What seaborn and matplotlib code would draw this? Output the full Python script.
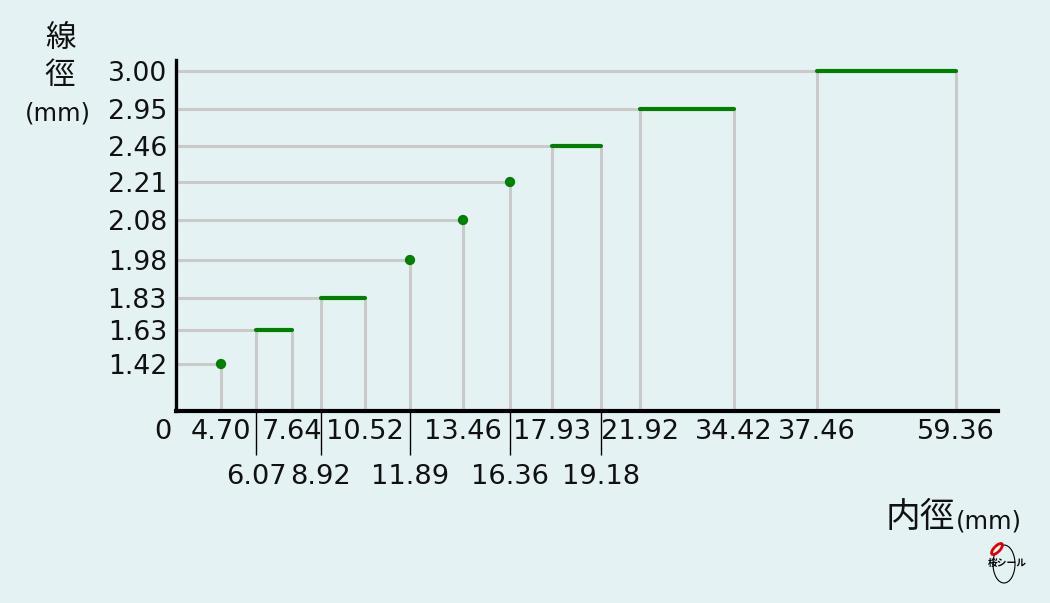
import numpy as np
import pandas as pd
import matplotlib
matplotlib.use("Agg")
import matplotlib.pyplot as plt
import seaborn as sns
from matplotlib.patches import Ellipse

# ---------------- data ----------------
inner_upper = [4.70, 7.64, 10.52, 13.46, 17.93, 21.92, 34.42, 37.46, 59.36]
inner_lower = [6.07, 8.92, 11.89, 16.36, 19.18]
wire_ticks = [1.42, 1.63, 1.83, 1.98, 2.08, 2.21, 2.46, 2.95, 3.00]

point_x = [4.70, 11.89, 13.46, 16.36]
point_y = [1.42, 1.98, 2.08, 2.21]

seg_x0 = [6.07, 8.92, 17.93, 21.92, 37.46]
seg_x1 = [7.64, 10.52, 19.18, 34.42, 59.36]
seg_y = [1.63, 1.83, 2.46, 2.95, 3.00]

# ---------------- non-linear scale knots (layout) ----------------
X_KNOTS = [0, 4.70, 6.07, 7.64, 8.92, 10.52, 11.89, 13.46, 16.36, 17.93, 19.18, 21.92, 34.42, 37.46, 59.36, 64.0]
X_SCREEN = [0, 45, 80, 116, 145, 189, 234, 287, 334, 376, 425, 464, 558, 641, 780, 822]
Y_KNOTS = [0, 1.42, 1.63, 1.83, 1.98, 2.08, 2.21, 2.46, 2.95, 3.00, 3.05]
Y_SCREEN = [0, 47, 81, 113, 151, 191, 229, 265, 302, 340, 351]

def xf(v): return np.interp(v, X_KNOTS, X_SCREEN)
def xi(v): return np.interp(v, X_SCREEN, X_KNOTS)
def yf(v): return np.interp(v, Y_KNOTS, Y_SCREEN)
def yi(v): return np.interp(v, Y_SCREEN, Y_KNOTS)

BG = "#e5f2f4"
GREEN = "#008000"
GRAY = "#cacaca"
TXT = "#111111"

sns.set_theme(style="white")
plt.rcParams["font.family"] = ["DejaVu Sans", "Noto Sans CJK JP"]
CJK = ["Noto Sans CJK JP", "DejaVu Sans"]

fig = plt.figure(figsize=(10.5, 6.03), dpi=100, facecolor=BG)
ax = fig.add_axes([176 / 1050, 1 - 411 / 603, (998 - 176) / 1050, (411 - 60) / 603])
ax.set_facecolor(BG)
ax.set_xscale("function", functions=(xf, xi))
ax.set_yscale("function", functions=(yf, yi))
ax.set_xlim(0, 64.0)
ax.set_ylim(0, 3.05)

# gray guide lines
for px, py in zip(point_x, point_y):
    ax.hlines(py, 0, px, color=GRAY, lw=2.2, zorder=1)
    ax.vlines(px, 0, py, color=GRAY, lw=2.2, zorder=1)
for x0, x1, y in zip(seg_x0, seg_x1, seg_y):
    ax.hlines(y, 0, x0, color=GRAY, lw=2.2, zorder=1)
    ax.vlines([x0, x1], 0, y, color=GRAY, lw=2.2, zorder=1)

# green segments
seg_df = pd.DataFrame({
    "x": seg_x0 + seg_x1,
    "y": seg_y + seg_y,
    "seg": list(range(len(seg_y))) * 2,
})
sns.lineplot(data=seg_df, x="x", y="y", units="seg", estimator=None,
             color=GREEN, lw=3.0, ax=ax, zorder=3, sort=True)

# green points
pt_df = pd.DataFrame({"x": point_x, "y": point_y})
sns.scatterplot(data=pt_df, x="x", y="y", color=GREEN, s=55, edgecolor="none",
                ax=ax, zorder=4)

ax.set_xlabel("")
ax.set_ylabel("")

# spines
for s in ["top", "right"]:
    ax.spines[s].set_visible(False)
ax.spines["left"].set_linewidth(2.4)
ax.spines["bottom"].set_linewidth(3.0)
ax.spines["left"].set_color("black")
ax.spines["bottom"].set_color("black")

# ticks
ax.set_yticks(wire_ticks, labels=[f"{v:.2f}" for v in wire_ticks])
ax.set_yticks([], minor=True)
ax.tick_params(axis="y", which="major", length=0, pad=6.5, labelsize=19.2, labelcolor=TXT)

ax.set_xticks(inner_upper, labels=[f"{v:.2f}" for v in inner_upper])
ax.set_xticks(inner_lower, labels=[f"{v:.2f}" for v in inner_lower], minor=True)
ax.tick_params(axis="x", which="major", length=0, pad=6, labelsize=19.6, labelcolor=TXT)
ax.tick_params(axis="x", which="minor", length=32, width=1.0, color="black",
               direction="out", pad=6, labelsize=19.6, labelcolor=TXT, bottom=True)

ax.annotate("0", xy=(0, 0), xytext=(-13, -21), textcoords="offset pixels",
            ha="center", va="center", fontsize=19.6, color=TXT, annotation_clip=False)

# axis titles
fig.text(60 / 1050, 1 - 38 / 603, "線", family=CJK, fontsize=22, ha="center", va="center", color=TXT)
fig.text(60 / 1050, 1 - 76 / 603, "徑", family=CJK, fontsize=22, ha="center", va="center", color=TXT)
fig.text(58 / 1050, 1 - 113 / 603, "(mm)", fontsize=17.5, ha="center", va="center", color=TXT)

fig.text(955 / 1050, 1 - 518 / 603, "内徑", family=CJK, fontsize=25, ha="right", va="center", color=TXT)
fig.text(956 / 1050, 1 - 522 / 603, "(mm)", fontsize=17.5, ha="left", va="center", color=TXT)

# small logo
fig.add_artist(Ellipse((1004 / 1050, 1 - 564 / 603), 22 / 1050, 38 / 603, fill=False,
                       ec="black", lw=0.8, transform=fig.transFigure))
fig.add_artist(Ellipse((997 / 1050, 1 - 549 / 603), 7 / 1050, 12 / 603, angle=-25,
                       fc="white", ec="#e00000", lw=2.0, transform=fig.transFigure))
fig.text(1007 / 1050, 1 - 563 / 603, "桜シール", family=CJK, fontsize=7, fontweight="bold",
         ha="center", va="center", color="black")

fig.savefig("out.png", dpi=100, facecolor=BG)
